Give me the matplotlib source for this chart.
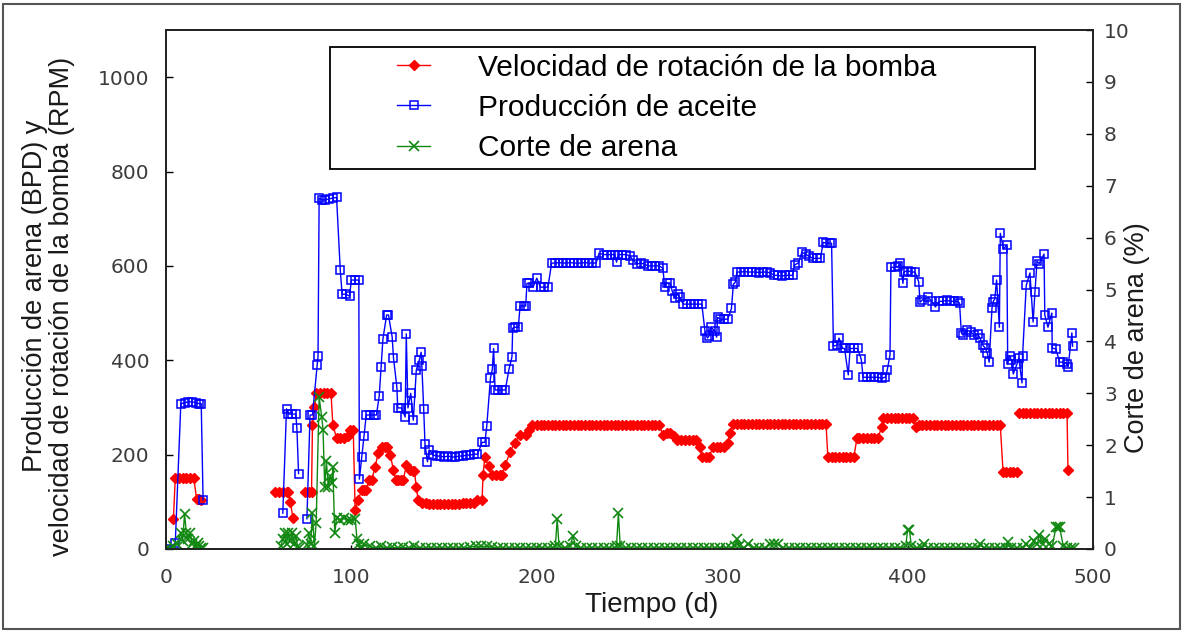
import matplotlib
matplotlib.use("Agg")
import matplotlib.pyplot as plt
import numpy as np
from matplotlib.lines import Line2D
from matplotlib.legend_handler import HandlerLine2D
from matplotlib.patches import Rectangle

nan = np.nan

# Produccion de aceite (BPD)
dias_aceite = [
    0, 5, 8, 10, 12, 14, 16, 18, 19, 20, 40,
    63, 65, 66, 68, 70, 70.6, 71.5, 74,
    76, 77.7, 79, 81.5, 82, 82.6, 84, 86, 88, 90, 92, 94, 95, 97, 99, 100, 102, 104,
    104.3, 105.6, 106.8, 108, 110, 112, 113.5, 115, 116, 117, 119, 120, 122, 122.7,
    124.5, 125, 127, 129, 129.6, 130.5, 132, 133.4, 135, 136.6, 137.6, 138, 139, 139.7, 141,
    142, 144, 146, 148, 150, 152, 154, 156, 158, 160, 162, 164, 166, 168,
    170.5, 172, 173, 175, 176, 176.7, 177.5, 179, 181, 183, 185, 186.6, 187, 188, 190,
    191, 193, 194, 194.7, 196, 198, 200, 202, 204, 206,
    208, 210, 212, 214, 216, 218, 220, 222, 224, 226, 228, 230, 232,
    233.6, 236, 238, 240, 242, 243, 244, 246, 248, 250, 252,
    254, 256, 258, 260, 262, 264, 266, 268,
    269, 270, 272, 273, 274.5, 276, 277, 279, 281, 283, 285, 287, 289,
    290.7, 292, 293, 294, 296, 297, 297.5, 299, 301, 303, 305, 306, 307,
    308, 310, 312, 314, 316, 318, 320, 322, 324, 326, 328, 330, 332, 334, 336, 338,
    339, 341, 343, 345, 347, 349, 351, 353, 354.5, 356, 358, 359,
    360, 362, 363, 365, 366, 368, 369, 371, 373, 375, 376, 378, 380, 382, 384, 386, 388, 389, 390.5,
    391, 393, 395, 396, 397.5, 398, 400, 402, 404, 406, 406.7, 408, 411, 413, 415, 417, 419,
    421, 423, 425, 427, 428,
    429, 430, 432, 434, 436, 438, 439, 440.6, 442, 443, 444,
    445.5, 446, 447, 448, 449.5, 450, 451.7, 453.5, 454, 455, 456, 457, 459, 460, 461.7, 462,
    464, 466, 467.7, 468.7, 469.8, 471, 473.6, 474, 475.7, 477.8, 478, 480, 482, 484, 486,
    486.6, 488.6, 489]
aceite = [
    0, 12, 308, 310, 312, 312, 310, 308, 308, 104, nan,
    76, 297, 286, 286, 286, 256, 160, nan,
    64, 284, 284, 390, 409, 744, 740, 740, 742, 744, 745, 591, 540, 540, 536, 570, 570, 570,
    148, 195, 239, 284, 284, 284, 284, 324, 385, 445, 496, 496, 449, 405,
    344, 299, 299, 280, 456, 299, 330, 273, 379, 400, 417, 388, 296, 222, 185,
    210, 199, 197, 197, 195, 197, 195, 195, 197, 197, 199, 199, 201, 201,
    226, 226, 260, 362, 381, 425, 337, 337, 337, 337, 381, 407, 468, 470, 470,
    515, 515, 515, 563, 563, 555, 574, 555, 555, 555,
    606, 606, 607, 606, 606, 607, 606, 606, 606, 607, 606, 606, 606,
    627, 624, 624, 624, 624, 608, 624, 624, 624, 622, 612,
    604, 606, 604, 600, 600, 600, 600, 595,
    555, 563, 563, 547, 532, 540, 534, 519, 519, 519, 519, 519, 519,
    462, 447, 452, 470, 462, 449, 491, 487, 487, 487, 510, 561, 565,
    587, 587, 588, 587, 587, 587, 586, 587, 587, 585, 580, 580, 578, 580, 580, 580,
    602, 606, 629, 625, 620, 616, 616, 616, 650, 648, 648, 648,
    430, 432, 447, 425, 425, 369, 425, 425, 425, 402, 364, 364, 364, 364, 364, 362, 364, 379, 411,
    597, 597, 599, 606, 563, 587, 590, 587, 587, 566, 523, 528, 534, 525, 513, 525, 525,
    527, 525, 525, 525, 521,
    458, 453, 464, 460, 453, 455, 447, 432, 425, 415, 396,
    510, 523, 530, 570, 470, 669, 636, 644, 392, 410, 400, 371, 392, 405, 352, 409,
    559, 585, 481, 545, 610, 605, 625, 496, 470, 500, 426, 424, 396, 396, 392,
    386, 458, 430]

# Velocidad de rotacion de la bomba (RPM)
dias_rpm = [
    4, 5, 7, 9, 11, 13, 15, 16.5, 18, 19, 40,
    59, 61, 63, 65, 66, 67, 68.5, 72,
    75, 77, 78.5, 79, 80, 81, 83, 85, 87, 89, 90, 92, 94, 96, 98, 99, 101, 102,
    103.6, 105.6, 107, 108, 109.5, 111, 112.7, 114.5, 116.5, 118, 119, 121, 122.7,
    124, 125, 127, 128, 129.6, 131.6, 133, 134, 135, 136,
    138, 140, 142, 144, 146, 148, 150, 152, 154, 156, 158, 160, 162, 164, 166, 168, 170.5,
    171, 172, 174, 176, 178, 180, 181, 183, 185.5, 188, 191, 194, 196,
    197.4, 200, 202, 204, 206, 208, 210, 212, 214, 216, 218, 220, 222, 224, 226, 228,
    230, 232, 234, 236, 238, 240, 242, 244, 246, 248, 250, 252, 254, 256, 258, 260,
    262, 264, 266,
    268, 270, 272, 274, 275.6, 278, 280, 282, 284, 286, 288, 289, 291, 293, 295, 297,
    299, 301, 303, 304,
    306, 308, 310, 312, 314, 316, 318, 320, 322, 324, 326, 328, 330, 332, 334, 336,
    338, 340, 342, 344, 346, 348, 350, 352, 354, 356,
    357, 359, 361, 363, 365, 367, 369, 371,
    372.7, 374, 376, 378, 380, 382, 384,
    386, 387, 389, 391, 393, 395, 397, 399, 401, 403,
    404.5, 406, 408, 410, 412, 414, 416, 418, 420, 422, 424, 426, 428, 430, 432, 434,
    436, 438, 440, 442, 444, 446, 448, 450,
    451.5, 453, 455, 457, 459, 459.4,
    460, 462, 464, 466, 468, 470, 472, 474, 476, 478, 480, 482, 484, 486, 486.5]
rpm = [
    64, 150, 150, 150, 150, 150, 150, 106, 106, 104, nan,
    121, 121, 121, 121, 121, 100, 66, nan,
    121, 121, 121, 263, 301, 330, 330, 330, 330, 330, 263, 235, 235, 235, 240, 252, 252, 83,
    104, 125, 125, 125, 146, 146, 174, 203, 216, 216, 216, 199, 167,
    146, 146, 146, 146, 178, 167, 165, 165, 131, 104,
    97, 97, 96, 96, 96, 96, 96, 96, 96, 96, 96, 97, 97, 97, 97, 104, 104,
    157, 195, 175, 157, 157, 157, 157, 178, 205, 225, 242, 242, 252,
    263, 263, 263, 263, 263, 263, 263, 263, 263, 263, 263, 263, 263, 263, 263, 263,
    263, 263, 263, 263, 263, 263, 263, 263, 263, 263, 263, 263, 263, 263, 263, 263,
    263, 263, 263,
    242, 246, 246, 240, 231, 231, 231, 231, 231, 231, 216, 195, 195, 195, 216, 216,
    216, 216, 225, 246,
    265, 265, 265, 265, 265, 265, 265, 265, 265, 265, 265, 265, 265, 265, 265, 265,
    265, 265, 265, 265, 265, 265, 265, 265, 265, 265,
    195, 195, 195, 195, 195, 195, 195, 195,
    235, 235, 235, 235, 235, 235, 235,
    258, 277, 277, 277, 277, 277, 277, 277, 277, 277,
    258, 262, 262, 262, 262, 262, 262, 262, 262, 262, 262, 262, 262, 262, 262, 262,
    262, 262, 262, 262, 262, 262, 262, 262,
    163, 163, 163, 163, 163, nan,
    288, 288, 288, 288, 288, 288, 288, 288, 288, 288, 288, 288, 288, 288, 167]

# Corte de arena (%)
dias_arena = [
    0, 2, 4, 6, 8, 9, 10, 11, 12, 13, 14, 15, 16, 17, 18, 19, 20, 40,
    62, 63, 64, 65, 66, 67, 68, 69, 70, 71, 72, 74,
    76, 77, 78, 79, 80, 81, 82.6, 84, 84.7, 85.6, 86.5, 87.5, 88.5, 89.5, 90, 91, 92,
    94, 96, 98, 100, 102, 103, 104, 105,
    107, 110, 113, 116, 119, 122, 125, 128, 131, 134, 137, 140, 143, 146, 149, 152,
    155, 158, 161, 164, 167, 170, 173, 176, 179, 182, 185, 188, 191, 194, 197, 200,
    203, 206, 209, 210, 211, 212, 215, 218, 219.5, 221, 224, 227, 230, 233, 236, 239,
    242, 243, 244, 245, 248, 251, 254, 257, 260, 263, 266, 269, 272, 275, 278, 281,
    284, 287, 290, 293, 296, 299, 302, 305, 307, 308, 309, 312, 314, 317, 320, 323,
    326, 328, 330, 333, 336, 339, 342, 345, 348, 351, 354, 357, 360, 363, 366, 369,
    372, 375, 378, 381, 384, 387, 390, 393, 396, 399, 400, 401, 402, 405, 408, 409,
    411, 414, 417, 420, 423, 426, 429, 432, 435, 438, 439, 441, 444, 447, 450, 453,
    454, 456, 459, 462, 464, 466, 468, 470, 471, 473, 474, 476, 478, 480, 481, 482,
    484, 486, 488, 490]
arena = [
    0, 0, 0.05, 0.1, 0.3, 0.15, 0.68, 0.3, 0.2, 0.3, 0.1, 0.15, 0.05, 0.12, 0.05, 0.02, 0.02, nan,
    0.05, 0.2, 0.3, 0.1, 0.3, 0.15, 0.3, 0.1, 0.25, 0.05, 0.02, nan,
    0.08, 0.3, 0.1, 0.69, 0.05, 0.5, 2.93, 2.54, 2.3, 1.2, 1.7, 1.2, 1.4, 1.27, 1.58, 0.3, 0.6,
    0.56, 0.6, 0.56, 0.56, 0.58, 0.2, 0.1, 0.0,
    0.1, 0.05, 0.02, 0.05, 0.02, 0.03, 0.02, 0.03, 0.02, 0.05, 0.02, 0.02, 0.02, 0.02, 0.02, 0.02,
    0.02, 0.02, 0.02, 0.04, 0.05, 0.05, 0.05, 0.04, 0.02, 0.02, 0.02, 0.02, 0.02, 0.02, 0.02, 0.02,
    0.02, 0.02, 0.02, 0.05, 0.58, 0.05, 0.02, 0.05, 0.25, 0.05, 0.02, 0.02, 0.02, 0.02, 0.02, 0.02,
    0.02, 0.05, 0.69, 0.05, 0.02, 0.02, 0.02, 0.02, 0.02, 0.02, 0.02, 0.02, 0.02, 0.02, 0.02, 0.02,
    0.02, 0.02, 0.02, 0.02, 0.02, 0.02, 0.02, 0.02, 0.05, 0.2, 0.05, 0.02, 0.1, 0.02, 0.02, 0.02,
    0.1, 0.1, 0.1, 0.02, 0.02, 0.02, 0.02, 0.02, 0.02, 0.02, 0.02, 0.02, 0.02, 0.02, 0.02, 0.02,
    0.02, 0.02, 0.02, 0.02, 0.02, 0.02, 0.02, 0.02, 0.02, 0.05, 0.37, 0.37, 0.05, 0.02, 0.02, 0.1,
    0.02, 0.02, 0.02, 0.02, 0.02, 0.02, 0.02, 0.02, 0.02, 0.02, 0.1, 0.02, 0.02, 0.02, 0.02, 0.02,
    0.14, 0.02, 0.02, 0.02, 0.1, 0.02, 0.15, 0.1, 0.27, 0.1, 0.2, 0.1, 0.05, 0.42, 0.42, 0.42,
    0.05, 0.02, 0.02, 0.02]

etiquetas = ["Velocidad de rotación de la bomba", "Producción de aceite", "Corte de arena"]

W, H = 1186, 631
fig = plt.figure(figsize=(W / 100, H / 100), dpi=100)
ax = fig.add_axes([166 / W, 82 / H, 927 / W, 519 / H])
ax2 = ax.twinx()

l_rpm, = ax.plot(dias_rpm, rpm, color="#ff0000", lw=1.0, marker="D", ms=4.8,
                 mec="#ff0000", mfc="#ff0000")
l_ace, = ax.plot(dias_aceite, aceite, color="#0000ff", lw=1.0, marker="s", ms=5.8,
                 mec="#0000ff", mfc="none", mew=1.1)
l_are, = ax2.plot(dias_arena, arena, color="#118811", lw=1.0, marker="x", ms=6.5,
                  mew=1.2)

ax.set_xlim(0, 500)
ax.set_ylim(0, 1100)
ax2.set_ylim(0, 10)
ax.set_xticks([0, 100, 200, 300, 400, 500])
ax.set_yticks([0, 200, 400, 600, 800, 1000])
ax2.set_yticks(range(0, 11))

tick_col = "#3c3c3c"
ax.tick_params(axis="y", direction="in", length=5, width=1, pad=12,
               labelsize=14.5, labelcolor=tick_col)
ax.tick_params(axis="x", direction="in", length=3, width=1, pad=14,
               labelsize=14.5, labelcolor=tick_col)
ax2.tick_params(axis="y", direction="in", length=5, width=1, pad=8,
                labelsize=14.5, labelcolor=tick_col)
for a in (ax, ax2):
    for s in a.spines.values():
        s.set_linewidth(1.3)
        s.set_color("#222222")

lab = dict(family="Liberation Sans", fontsize=19.5, color="#1a1a1a")
fig.text(35 / W, 1 - 296 / H, "Producción de arena (BPD) y", rotation=90,
         ha="center", va="center", **lab)
fig.text(62 / W, 1 - 306 / H, "velocidad de rotación de la bomba (RPM)", rotation=90,
         ha="center", va="center", **lab)
fig.text(1137 / W, 1 - 338 / H, "Corte de arena (%)", rotation=90,
         ha="center", va="center", **lab)
fig.text(652 / W, 1 - 605 / H, "Tiempo (d)", ha="center", va="center",
         family="Liberation Sans", fontsize=20, color="#1a1a1a")

leg = ax2.legend([l_rpm, l_ace, l_are], etiquetas, loc="upper left",
                 bbox_to_anchor=(164 / 927, 0, 705 / 927, (549 - 47) / 519),
                 mode="expand", borderaxespad=0, borderpad=0.22, labelspacing=0.41,
                 handlelength=3.14, handletextpad=1.6, fancybox=False, framealpha=1,
                 edgecolor="black", prop={"family": "Liberation Sans", "size": 21.5},
                 handler_map={Line2D: HandlerLine2D(xpad=2.04, numpoints=1)})
leg.get_frame().set_linewidth(1.3)

fig.patches.append(Rectangle((3 / W, 2 / H), 1177 / W, 625 / H, transform=fig.transFigure,
                             fill=False, edgecolor="#555555", lw=1.5))

fig.savefig("out.png", dpi=100)
